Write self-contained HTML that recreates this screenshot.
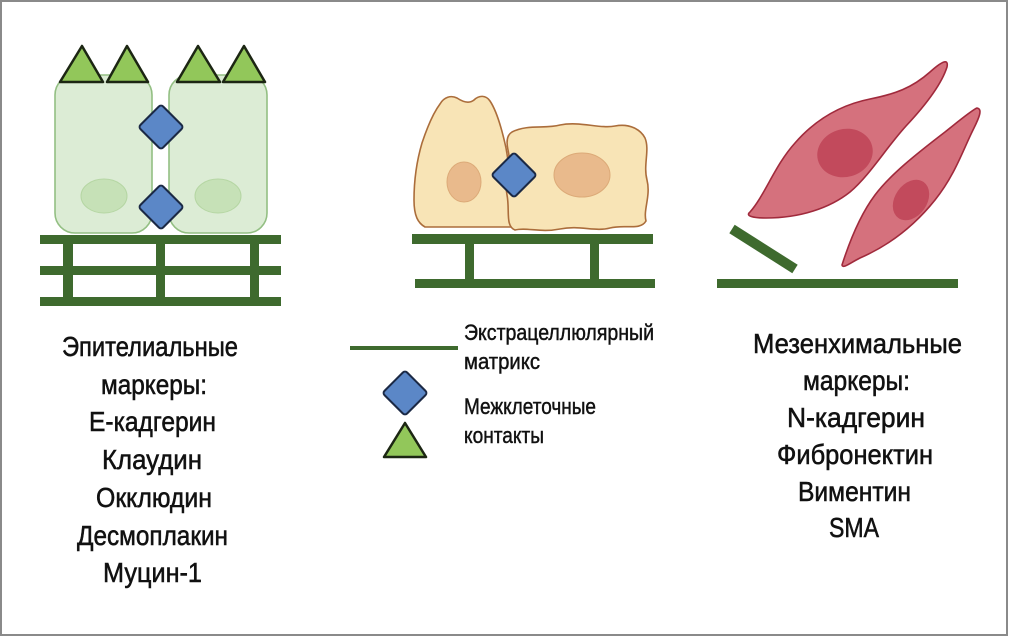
<!DOCTYPE html>
<html>
<head>
<meta charset="utf-8">
<style>
  html,body{margin:0;padding:0;background:#fff;}
  svg{display:block;}
  text{font-family:"Liberation Sans", "Noto Sans CJK SC", sans-serif; fill:#111; stroke:#111; stroke-width:0.55px;}
  .m{font-size:28px;}
  .l{font-size:22.5px; stroke-width:0.45px;}
</style>
</head>
<body>
<svg width="1010" height="638" viewBox="0 0 1010 638" xmlns="http://www.w3.org/2000/svg">
  <rect x="0" y="0" width="1010" height="638" fill="#fff"/>
  <rect x="1" y="1" width="1006" height="634" fill="none" stroke="#8a8a8a" stroke-width="2"/>

  <!-- ===== LEFT: epithelial ===== -->
  <g>
    <rect x="55" y="75" width="97" height="158" rx="20" fill="#dcecd5" stroke="#93bf83" stroke-width="1.6"/>
    <rect x="169" y="75" width="98" height="158" rx="20" fill="#dcecd5" stroke="#93bf83" stroke-width="1.6"/>
    <ellipse cx="104" cy="196" rx="23" ry="17" fill="#c6e1b7" stroke="#b5d6a3" stroke-width="1"/>
    <ellipse cx="218" cy="196" rx="23" ry="17" fill="#c6e1b7" stroke="#b5d6a3" stroke-width="1"/>
    <g fill="#92c75a" stroke="#1c2613" stroke-width="2.5" stroke-linejoin="round">
      <polygon points="60,82 82,46 103,82"/>
      <polygon points="107,82 127,46 148,82"/>
      <polygon points="177,82 198,46 220,82"/>
      <polygon points="223,82 244,46 265,82"/>
    </g>
    <g fill="#5b87c7" stroke="#1b2945" stroke-width="2">
      <rect x="-16" y="-16" width="32" height="32" rx="3" transform="translate(161 127) rotate(45)"/>
      <rect x="-16" y="-16" width="32" height="32" rx="3" transform="translate(161 207) rotate(45)"/>
    </g>
    <g fill="#3e6a2e">
      <rect x="40" y="235" width="241" height="9"/>
      <rect x="40" y="266" width="241" height="9"/>
      <rect x="40" y="297" width="241" height="9"/>
      <rect x="63" y="235" width="10" height="71"/>
      <rect x="156" y="235" width="9" height="71"/>
      <rect x="250" y="235" width="9" height="71"/>
    </g>
  </g>

  <!-- ===== MIDDLE ===== -->
  <g>
    <path d="M425,227 C418,223 414,216 414,200 C414,180 417,160 422,143 C428,125 434,112 440,104 C444,97 451,95 457,98 C463,102 469,104 474,100 C479,95 486,95 490,101 C496,110 501,125 506,148 C510,170 512,195 512,227 Z"
          fill="#f8e4b6" stroke="#ab6d3b" stroke-width="1.6" stroke-linejoin="round"/>
    <ellipse cx="464" cy="182" rx="17" ry="20" fill="#e9ba8c" stroke="#dcaa78" stroke-width="1"/>
    <path d="M512,132 C528,124 545,129 560,125 C580,121 600,129 615,126 C630,123 641,130 645,138 C650,150 643,165 647,180 C651,196 643,210 646,221 C640,231 625,224 610,228 C595,232 580,225 560,229 C540,233 527,227 515,230 C505,226 510,210 507,195 C504,180 512,165 508,150 C506,141 507,135 512,132 Z"
          fill="#f8e4b6" stroke="#ab6d3b" stroke-width="1.6" stroke-linejoin="round"/>
    <ellipse cx="582" cy="175" rx="28" ry="22" fill="#e9ba8c" stroke="#dcaa78" stroke-width="1"/>
    <rect x="-16" y="-16" width="32" height="32" rx="3" transform="translate(514 175) rotate(45)" fill="#5b87c7" stroke="#1b2945" stroke-width="2"/>
    <g fill="#3e6a2e">
      <rect x="412" y="234" width="241" height="10"/>
      <rect x="415" y="279" width="240" height="9"/>
      <rect x="465" y="234" width="9" height="54"/>
      <rect x="590" y="234" width="9" height="54"/>
    </g>
  </g>

  <!-- ===== RIGHT ===== -->
  <g>
    <path d="M750,212 C765,195 775,165 795,143 C815,120 840,105 870,99 C895,94 912,88 930,72 C940,63 949,57 947,67 C941,86 921,110 906,126 C886,148 870,175 850,192 C830,208 800,218 766,218 C753,218 745,216 750,212 Z"
          fill="#d5717d" stroke="#a02a3c" stroke-width="1.6" stroke-linejoin="round"/>
    <ellipse cx="845" cy="153" rx="28" ry="24" transform="rotate(-15 845 153)" fill="#c24a5c"/>
    <path d="M842,265 C850,240 860,215 875,195 C890,175 915,155 945,132 C960,120 972,110 977,108 C983,109 979,118 973,130 C963,150 955,175 935,200 C915,225 890,245 860,258 C850,263 843,269 842,265 Z"
          fill="#d5717d" stroke="#a02a3c" stroke-width="1.6" stroke-linejoin="round"/>
    <ellipse cx="911" cy="200" rx="16" ry="22" transform="rotate(35 911 200)" fill="#c24a5c"/>
    <line x1="732" y1="229" x2="795" y2="269" stroke="#3e6a2e" stroke-width="10"/>
    <rect x="717" y="279" width="241" height="9" fill="#3e6a2e"/>
  </g>

  <!-- ===== LEGEND ===== -->
  <g>
    <rect x="350" y="346" width="108" height="4" fill="#3e6a2e"/>
    <rect x="-16" y="-16" width="32" height="32" rx="3" transform="translate(405 393) rotate(45)" fill="#5b87c7" stroke="#1b2945" stroke-width="2"/>
    <polygon points="384,457 405,423 426,457" fill="#92c75a" stroke="#1c2613" stroke-width="2.5" stroke-linejoin="round"/>
    <text class="l" x="464" y="340" textLength="190" lengthAdjust="spacingAndGlyphs">Экстрацеллюлярный</text>
    <text class="l" x="464" y="369" textLength="76" lengthAdjust="spacingAndGlyphs">матрикс</text>
    <text class="l" x="464" y="414" textLength="132" lengthAdjust="spacingAndGlyphs">Межклеточные</text>
    <text class="l" x="464" y="443" textLength="80" lengthAdjust="spacingAndGlyphs">контакты</text>
  </g>

  <!-- ===== LEFT TEXT ===== -->
  <g>
    <text class="m" x="62" y="356" textLength="176" lengthAdjust="spacingAndGlyphs">Эпителиальные</text>
    <text class="m" x="101" y="394" textLength="106" lengthAdjust="spacingAndGlyphs">маркеры:</text>
    <text class="m" x="89" y="431" textLength="127" lengthAdjust="spacingAndGlyphs">Е-кадгерин</text>
    <text class="m" x="102" y="469" textLength="100" lengthAdjust="spacingAndGlyphs">Клаудин</text>
    <text class="m" x="96" y="507" textLength="116" lengthAdjust="spacingAndGlyphs">Окклюдин</text>
    <text class="m" x="77" y="545" textLength="151" lengthAdjust="spacingAndGlyphs">Десмоплакин</text>
    <text class="m" x="103" y="582" textLength="99" lengthAdjust="spacingAndGlyphs">Муцин-1</text>
  </g>

  <!-- ===== RIGHT TEXT ===== -->
  <g>
    <text class="m" x="753" y="353" textLength="209" lengthAdjust="spacingAndGlyphs">Мезенхимальные</text>
    <text class="m" x="803" y="390" textLength="107" lengthAdjust="spacingAndGlyphs">маркеры:</text>
    <text class="m" x="787" y="427" textLength="138" lengthAdjust="spacingAndGlyphs">N-кадгерин</text>
    <text class="m" x="777" y="464" textLength="156" lengthAdjust="spacingAndGlyphs">Фибронектин</text>
    <text class="m" x="798" y="501" textLength="113" lengthAdjust="spacingAndGlyphs">Виментин</text>
    <text class="m" x="829" y="537" textLength="50" lengthAdjust="spacingAndGlyphs">SMA</text>
  </g>
</svg>
</body>
</html>
